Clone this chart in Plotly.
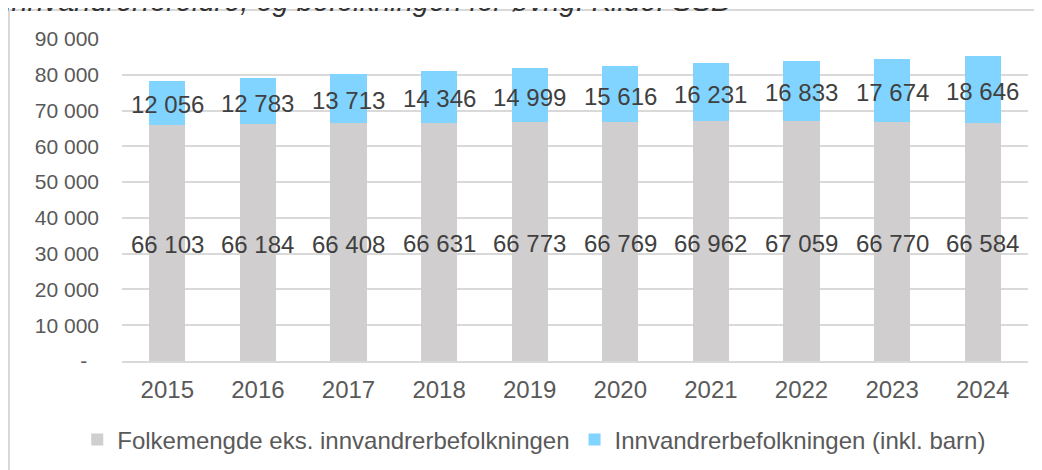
import plotly.graph_objects as go

years = ["2015", "2016", "2017", "2018", "2019", "2020", "2021", "2022", "2023", "2024"]
folkemengde = [66103, 66184, 66408, 66631, 66773, 66769, 66962, 67059, 66770, 66584]
innvandrer = [12056, 12783, 13713, 14346, 14999, 15616, 16231, 16833, 17674, 18646]
ytick_vals = [0, 10000, 20000, 30000, 40000, 50000, 60000, 70000, 80000, 90000]
ytick_text = ["-\u00a0\u00a0", "10 000", "20 000", "30 000", "40 000", "50 000",
              "60 000", "70 000", "80 000", "90 000"]
name_a = "Folkemengde eks. innvandrerbefolkningen"
name_b = "Innvandrerbefolkningen (inkl. barn)"
title_text = "innvandrerforeldre, og befolkningen for øvrig. Kilde: SSB"

GRAY = "#D0CECE"
BLUE = "#80D4FF"
FONT = "Liberation Sans, Arial, sans-serif"


def fmt(v):
    return f"{v:,}".replace(",", " ")


fig = go.Figure()
fig.add_trace(go.Bar(x=years, y=folkemengde, name=name_a, marker=dict(color=GRAY, line=dict(width=0))))
fig.add_trace(go.Bar(x=years, y=innvandrer, name=name_b, marker=dict(color=BLUE, line=dict(width=0))))

# data labels centred in each segment (x given as category index)
label_font = dict(family=FONT, size=24, color="#404040")
annotations = []
for i, (a, b) in enumerate(zip(folkemengde, innvandrer)):
    annotations.append(dict(x=i, y=a / 2, xref="x", yref="y", text=fmt(a), showarrow=False,
                            xanchor="center", yanchor="middle", yshift=-2, font=label_font))
    annotations.append(dict(x=i, y=a + b / 2, xref="x", yref="y", text=fmt(b), showarrow=False,
                            xanchor="center", yanchor="middle", yshift=-2, font=label_font))

annotations.append(dict(text="<i>" + title_text + "</i>", xref="paper", yref="paper", x=-0.1313, y=1.061,
                        xanchor="left", yanchor="bottom", showarrow=False,
                        font=dict(family=FONT, size=29, color="#333333")))

fig.update_layout(
    barmode="stack",
    bargap=0.6,
    width=1042, height=470,
    margin=dict(l=114, r=22, t=31, b=117),
    paper_bgcolor="white", plot_bgcolor="white",
    font=dict(family=FONT, color="#595959"),
    showlegend=True,
    legend=dict(orientation="h", x=-0.0494, xanchor="left", y=-0.2453, yanchor="middle",
                font=dict(family=FONT, size=24, color="#595959"),
                traceorder="normal", itemwidth=30, tracegroupgap=0),
    xaxis=dict(type="category", range=[-0.5, len(years) - 0.5], showgrid=False, showline=True,
               linecolor="#D9D9D9", linewidth=1.5,
               tickfont=dict(family=FONT, size=24, color="#595959"), ticks="", ticklabelstandoff=6),
    yaxis=dict(range=[0, 90000], tickvals=ytick_vals, ticktext=ytick_text,
               showgrid=True, gridcolor="#D9D9D9", gridwidth=1.5, zeroline=False,
               tickfont=dict(family=FONT, size=21, color="#595959"), ticks="", ticklabelstandoff=22),
    shapes=[dict(type="rect", xref="paper", yref="paper", x0=-0.1247, x1=1.2, y0=-0.6, y1=1.090,
                 line=dict(color="#D9D9D9", width=2), fillcolor="rgba(0,0,0,0)", layer="below")],
    annotations=annotations,
)

fig.write_html("out.html")
